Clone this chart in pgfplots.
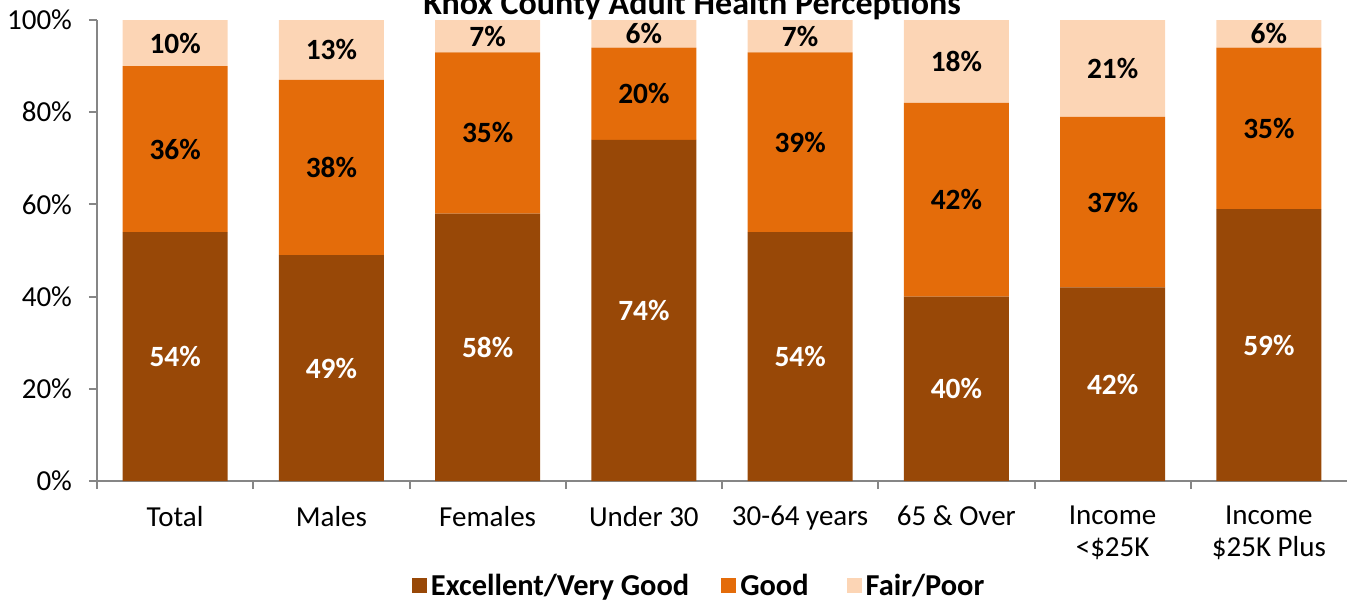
\documentclass[border=0pt]{standalone}
\usepackage{fontspec}
\setmainfont{Carlito}
\usepackage{pgfplots}
\usepackage{pgfplotstable}
\pgfplotsset{compat=1.18}
\definecolor{cExc}{HTML}{984807}
\definecolor{cGood}{HTML}{E46C0A}
\definecolor{cFair}{HTML}{FCD5B5}
\definecolor{axgray}{HTML}{868686}
\pgfplotstableread{
x e g f
0 54 36 10
1 49 38 13
2 58 35 7
3 74 20 6
4 54 39 7
5 40 42 18
6 42 37 21
7 59 35 6
}\datatab
\begin{document}
\begin{tikzpicture}[font=\fontsize{14.5}{16}\selectfont]
\pgfplotsset{
  common/.style={
    scale only axis, width=625pt, height=230.5pt,
    xmin=-0.5, xmax=7.5, ymin=0, ymax=100,
    /pgf/number format/assume math mode=true,
  }
}
\begin{axis}[common, name=ax,
  ybar stacked, bar width=52.5pt,
  axis x line*=bottom, axis y line*=left,
  axis line style={axgray, line width=1pt, -},
  tick align=outside,
  tick style={axgray, line width=1pt},
  major tick length=4pt, minor tick length=4pt,
  ytick={0,20,...,100},
  yticklabel={\pgfmathprintnumber{\tick}\%},
  xtick={0,...,7},
  xticklabels={Total,Males,Females,Under 30,30-64 years,65 \& Over,{Income\\<\$25K},{Income\\\$25K Plus}},
  xticklabel style={align=center, anchor=north, yshift=-5pt},
  yticklabel style={xshift=-5pt},
  major x tick style={draw=none},
  minor xtick={-0.5,0.5,...,6.5},
  legend style={at={(0.4825,-0.2278)}, anchor=center, draw=none, legend columns=3,
    font=\fontsize{15.2}{16}\selectfont\bfseries,
    /tikz/column 2/.style={column sep=14pt},
    /tikz/column 4/.style={column sep=17pt}},
  legend image code/.code={\fill[#1] (0pt,-3.7pt) rectangle (7.5pt,3.8pt);},
]
\addplot[fill=cExc, draw=none] table[x=x,y=e]{\datatab};
\addplot[fill=cGood, draw=none] table[x=x,y=g]{\datatab};
\addplot[fill=cFair, draw=none] table[x=x,y=f]{\datatab};
\legend{Excellent/Very Good, Good, Fair/Poor}
\end{axis}
\begin{axis}[common, hide axis,
  nodes near coords={\textbf{\pgfmathprintnumber{\pgfplotspointmeta}\%}},
  every node near coord/.append style={anchor=center, font=\fontsize{14.7}{16}\selectfont\bfseries},
  point meta=explicit]
\addplot[draw=none, mark=none, every node near coord/.append style={text=white}] table[x=x, y expr=\thisrow{e}/2, meta=e]{\datatab};
\addplot[draw=none, mark=none, every node near coord/.append style={text=black}] table[x=x, y expr=\thisrow{e}+\thisrow{g}/2, meta=g]{\datatab};
\addplot[draw=none, mark=none, every node near coord/.append style={text=black}] table[x=x, y expr=\thisrow{e}+\thisrow{g}+\thisrow{f}/2, meta=f]{\datatab};
\end{axis}
\node[anchor=base, font=\fontsize{17}{18}\selectfont\bfseries] at ([xshift=-15pt, yshift=2.5pt]ax.north) {Knox County Adult Health Perceptions};
\pgfresetboundingbox
\path ([shift={(-48.5pt,-59.5pt)}]ax.south west) rectangle ([shift={(626pt,10pt)}]ax.north west);
\end{tikzpicture}
\end{document}
